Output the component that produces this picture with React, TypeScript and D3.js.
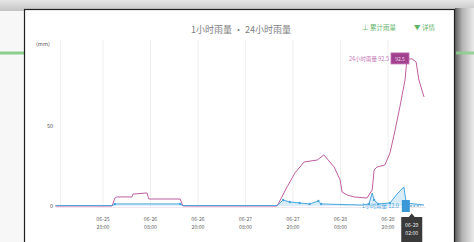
import React from "react";
import * as d3 from "d3";

const W = 474;
const H = 242;

const pinkHours = [0, 14.3, 15.0, 15.5, 19.3, 19.6, 23.1, 23.6, 31.5, 32.2, 56.0, 58.5, 60.5, 62.8, 66.1, 67.8, 70.4, 71.9, 72.4, 73.7, 75.4, 78.7, 80.0, 80.5, 81.2, 83.2, 84.5, 85.8, 87.0, 88.3, 88.8, 90.1, 91.1, 91.8, 93.1];
const pinkValues = [0, 0, 5.0, 5.7, 5.7, 7.5, 8.2, 4.4, 4.4, 0, 0, 12.0, 20.8, 27.7, 28.9, 32.1, 24.5, 16.4, 8.8, 6.9, 5.7, 5.0, 10.1, 22.6, 24.5, 25.8, 33.3, 47.8, 62.3, 79.3, 92.5, 92.5, 90.6, 79.3, 68.6];

const blueHours = [0, 14.3, 15.0, 31.5, 32.2, 56.0, 57.5, 59.2, 61.7, 64.2, 66.4, 67.1, 77.4, 79.2, 80.0, 80.5, 81.5, 84.5, 86.3, 88.0, 88.6, 93.1];
const blueValues = [0.3, 0.3, 1.3, 1.3, 0.3, 0.3, 3.8, 2.5, 1.9, 1.3, 3.1, 1.3, 0.6, 1.3, 8.2, 3.8, 1.3, 1.9, 7.5, 12.0, 1.9, 0.6];

const tickHours = [12, 24, 36, 48, 60, 72, 84];
const tickDates = ["06-25", "06-26", "06-26", "06-27", "06-27", "06-28", "06-28"];
const tickTimes = ["20:00", "08:00", "20:00", "08:00", "20:00", "08:00", "20:00"];
const yTicks = [0, 50];

const pointerHour = 90;
const pointerDate = "06-29";
const pointerTime = "02:00";

const title = "1小时雨量 · 24小时雨量";
const legendA = "累计雨量";
const legendB = "详情";
const pinkLabel = "24小时雨量 92.5";
const pinkBoxText = "92.5";
const blueLabel = "1小时雨量 12.0";

const FONT = "'Noto Sans CJK SC', 'Noto Sans', sans-serif";

export default function App() {
  const x = d3.scaleLinear().domain([0, 93.5]).range([55.5, 425.6]);
  const y = d3.scaleLinear().domain([0, 100]).range([206, 47]);

  const pinkPts: [number, number][] = pinkHours.map((h, i) => [h, pinkValues[i]]);
  const bluePts: [number, number][] = blueHours.map((h, i) => [h, blueValues[i]]);

  const line = d3.line<[number, number]>().x((d) => x(d[0])).y((d) => y(d[1]));
  const area = d3
    .area<[number, number]>()
    .x((d) => x(d[0]))
    .y0(y(0))
    .y1((d) => y(d[1]));

  const pinkMax = d3.max(pinkValues) as number;
  const pinkMaxIdx = pinkValues.indexOf(pinkMax);
  const blueMax = d3.max(blueValues) as number;
  const blueMaxIdx = blueValues.indexOf(blueMax);

  const px = x(pinkHours[pinkMaxIdx]);
  const py = y(pinkMax);
  const bx = x(blueHours[blueMaxIdx]);
  const by = y(0);
  const ptrX = x(pointerHour);

  return (
    <svg
      width={W}
      height={H}
      style={{ position: "fixed", left: 0, top: 0, display: "block" }}
      fontFamily={FONT}
    >
      <defs>
        <linearGradient id="topShade" x1="0" y1="0" x2="0" y2="1">
          <stop offset="0" stopColor="#e6e6e6" />
          <stop offset="1" stopColor="#c4c4c4" />
        </linearGradient>
        <linearGradient id="rightShade" x1="0" y1="0" x2="1" y2="0">
          <stop offset="0" stopColor="#5f5f5f" />
          <stop offset="0.4" stopColor="#b5b5b5" />
          <stop offset="1" stopColor="#ebebeb" />
        </linearGradient>
      </defs>
      <rect x={0} y={0} width={W} height={H} fill="#f7f7f7" />
      <rect x={0} y={0} width={W} height={11} fill="url(#topShade)" />
      <rect x={455} y={8} width={19} height={H} fill="url(#rightShade)" />
      <rect x={0} y={51.5} width={24} height={3} fill="#8ccf8c" />
      <rect x={456} y={51.5} width={18} height={3} fill="#8ccf8c" opacity={0.85} />
      {/* card */}
      <rect x={24.5} y={9.5} width={430} height={H} fill="#ffffff" stroke="#1e1e1e" strokeWidth={1.2} />

      {/* title & legend */}
      <text x={241} y={33} textAnchor="middle" fontSize={9} fill="#808080">
        {title}
      </text>
      <text x={362} y={30} fontSize={6.5} fill="#5fb36a">
        {"⊥ " + legendA}
      </text>
      <text x={414} y={30} fontSize={6.5} fill="#5fb36a">
        {"▼ " + legendB}
      </text>

      {/* grid */}
      {[0, ...tickHours].map((h, i) => (
        <line key={"g" + i} x1={x(h) + (h === 0 ? 5 : 0)} x2={x(h) + (h === 0 ? 5 : 0)} y1={40} y2={207} stroke="#efefef" strokeWidth={1} />
      ))}
      <line x1={x(0)} x2={x(93.5)} y1={207.5} y2={207.5} stroke="#f1e6ee" strokeWidth={1} />

      {/* y axis labels */}
      <text x={36} y={46} fontSize={5.5} fill="#555">(mm)</text>
      {yTicks.map((t) => (
        <text key={"y" + t} x={53} y={y(t) + 1.5} textAnchor="end" fontSize={5.5} fill="#555">
          {t}
        </text>
      ))}

      {/* x tick labels */}
      {tickHours.map((h, i) => (
        <g key={"t" + i}>
          <text x={x(h)} y={221} textAnchor="middle" fontSize={5.2} fill="#666">
            {tickDates[i]}
          </text>
          <text x={x(h)} y={228.5} textAnchor="middle" fontSize={5.2} fill="#666">
            {tickTimes[i]}
          </text>
        </g>
      ))}

      {/* series */}
      <path d={area(bluePts) || ""} fill="#bfe1f5" opacity={0.6} />
      <path d={line(pinkPts) || ""} fill="none" stroke="#bf5fa0" strokeWidth={1} />
      <path d={line(bluePts) || ""} fill="none" stroke="#4aa6de" strokeWidth={1} />
      {bluePts
        .filter((d) => d[1] > 1 && d[1] < 5)
        .map((d, i) => (
          <circle key={"c" + i} cx={x(d[0])} cy={y(d[1])} r={1.2} fill="#4aa6de" />
        ))}

      {/* pink mark label */}
      <text x={px - 18} y={py + 2.5} textAnchor="end" fontSize={5.5} fill="#c476b2">
        {pinkLabel}
      </text>
      <rect x={px - 16} y={py - 6} width={18} height={11} fill="#a2428f" stroke="#c06db0" strokeWidth={0.8} />
      <text x={px - 7} y={py + 1.8} textAnchor="middle" fontSize={5} fill="#f3d9ee">
        {pinkBoxText}
      </text>

      {/* blue mark label */}
      <text x={bx - 5} y={by + 1.5} textAnchor="end" fontSize={5.5} fill="#53abe0">
        {blueLabel}
      </text>
      <rect x={bx - 2} y={by - 6} width={8} height={12} fill="#3b98d6" />
      <line x1={bx + 6} x2={bx + 17} y1={by} y2={by} stroke="#3b98d6" strokeWidth={1} strokeDasharray="2,1.5" />

      {/* axis pointer label */}
      <path d={`M${ptrX - 3},${217} L${ptrX},${213.5} L${ptrX + 3},${217} Z`} fill="#3a3a3a" />
      <rect x={ptrX - 10.5} y={217} width={21} height={26} fill="#3a3a3a" />
      <text x={ptrX} y={226.5} textAnchor="middle" fontSize={5.2} fill="#e8e8e8">
        {pointerDate}
      </text>
      <text x={ptrX} y={235} textAnchor="middle" fontSize={5.2} fill="#e8e8e8">
        {pointerTime}
      </text>
    </svg>
  );
}
